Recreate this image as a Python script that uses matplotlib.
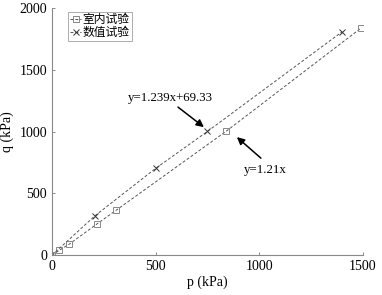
import numpy as np
import matplotlib.pyplot as plt
import matplotlib as mpl

mpl.rc('font', family=['Liberation Serif', 'Noto Sans CJK SC'], size=10)
mpl.rc('xtick', direction='in', color='#777777', labelcolor='black')
mpl.rc('ytick', direction='in', color='#777777', labelcolor='black')

# laboratory test (squares)
LabP = np.array([0, 34, 84, 215, 310, 840, 1493])
LabQ = np.array([0, 38, 90, 250, 364, 1002, 1840])

# numerical test (crosses), line starts at origin
NumP = np.array([0, 207, 500, 750, 1400])
NumQ = np.array([0, 318, 702, 1001, 1808])

fig = plt.figure(figsize=(3.82, 2.95), dpi=100)
ax = fig.add_axes([0.136, 0.135, 0.814, 0.838])

ax.plot(LabP, LabQ, linestyle='--', dashes=(3, 2), linewidth=0.7, color='#555555',
        marker='s', markersize=4, markerfacecolor='none', markeredgecolor='#888888',
        markeredgewidth=0.7, label='室内试验')
ax.plot(NumP, NumQ, linestyle='--', dashes=(3, 2), linewidth=0.7, color='#555555',
        marker='x', markersize=4, markeredgecolor='#333333', markeredgewidth=0.7,
        markevery=[1, 2, 3, 4], label='数值试验')

arrow = dict(arrowstyle='-|>', color='black', lw=1.1, mutation_scale=11,
             shrinkA=0, shrinkB=0)
ax.text(569, 1271, 'y=1.239x+69.33', ha='center', va='center', fontsize=9.3)
ax.annotate('', xy=(733, 1036), xytext=(608, 1198), arrowprops=arrow)
ax.text(1027, 688, 'y=1.21x', ha='center', va='center', fontsize=9.3)
ax.annotate('', xy=(892, 955), xytext=(1008, 785), arrowprops=arrow)

ax.set_xlim(0, 1500)
ax.set_ylim(0, 2000)
ax.set_xticks([0, 500, 1000, 1500])
ax.set_yticks([0, 500, 1000, 1500, 2000])
ax.tick_params(length=2, width=0.6)
ax.set_xlabel('p (kPa)', labelpad=2)
ax.set_ylabel('q (kPa)', labelpad=4)
for s in ['top', 'right']:
    ax.spines[s].set_visible(False)
for s in ['left', 'bottom']:
    ax.spines[s].set_color('#888888')
    ax.spines[s].set_linewidth(0.8)

leg = ax.legend(loc='upper left', bbox_to_anchor=(0.04, 1.0), fontsize=8.5,
                handlelength=0.9, handletextpad=0.15, borderpad=0.2,
                labelspacing=0.1, fancybox=False, borderaxespad=0.3)
leg.get_frame().set_edgecolor('#888888')
leg.get_frame().set_linewidth(0.6)

fig.savefig('out.png', dpi=100)
